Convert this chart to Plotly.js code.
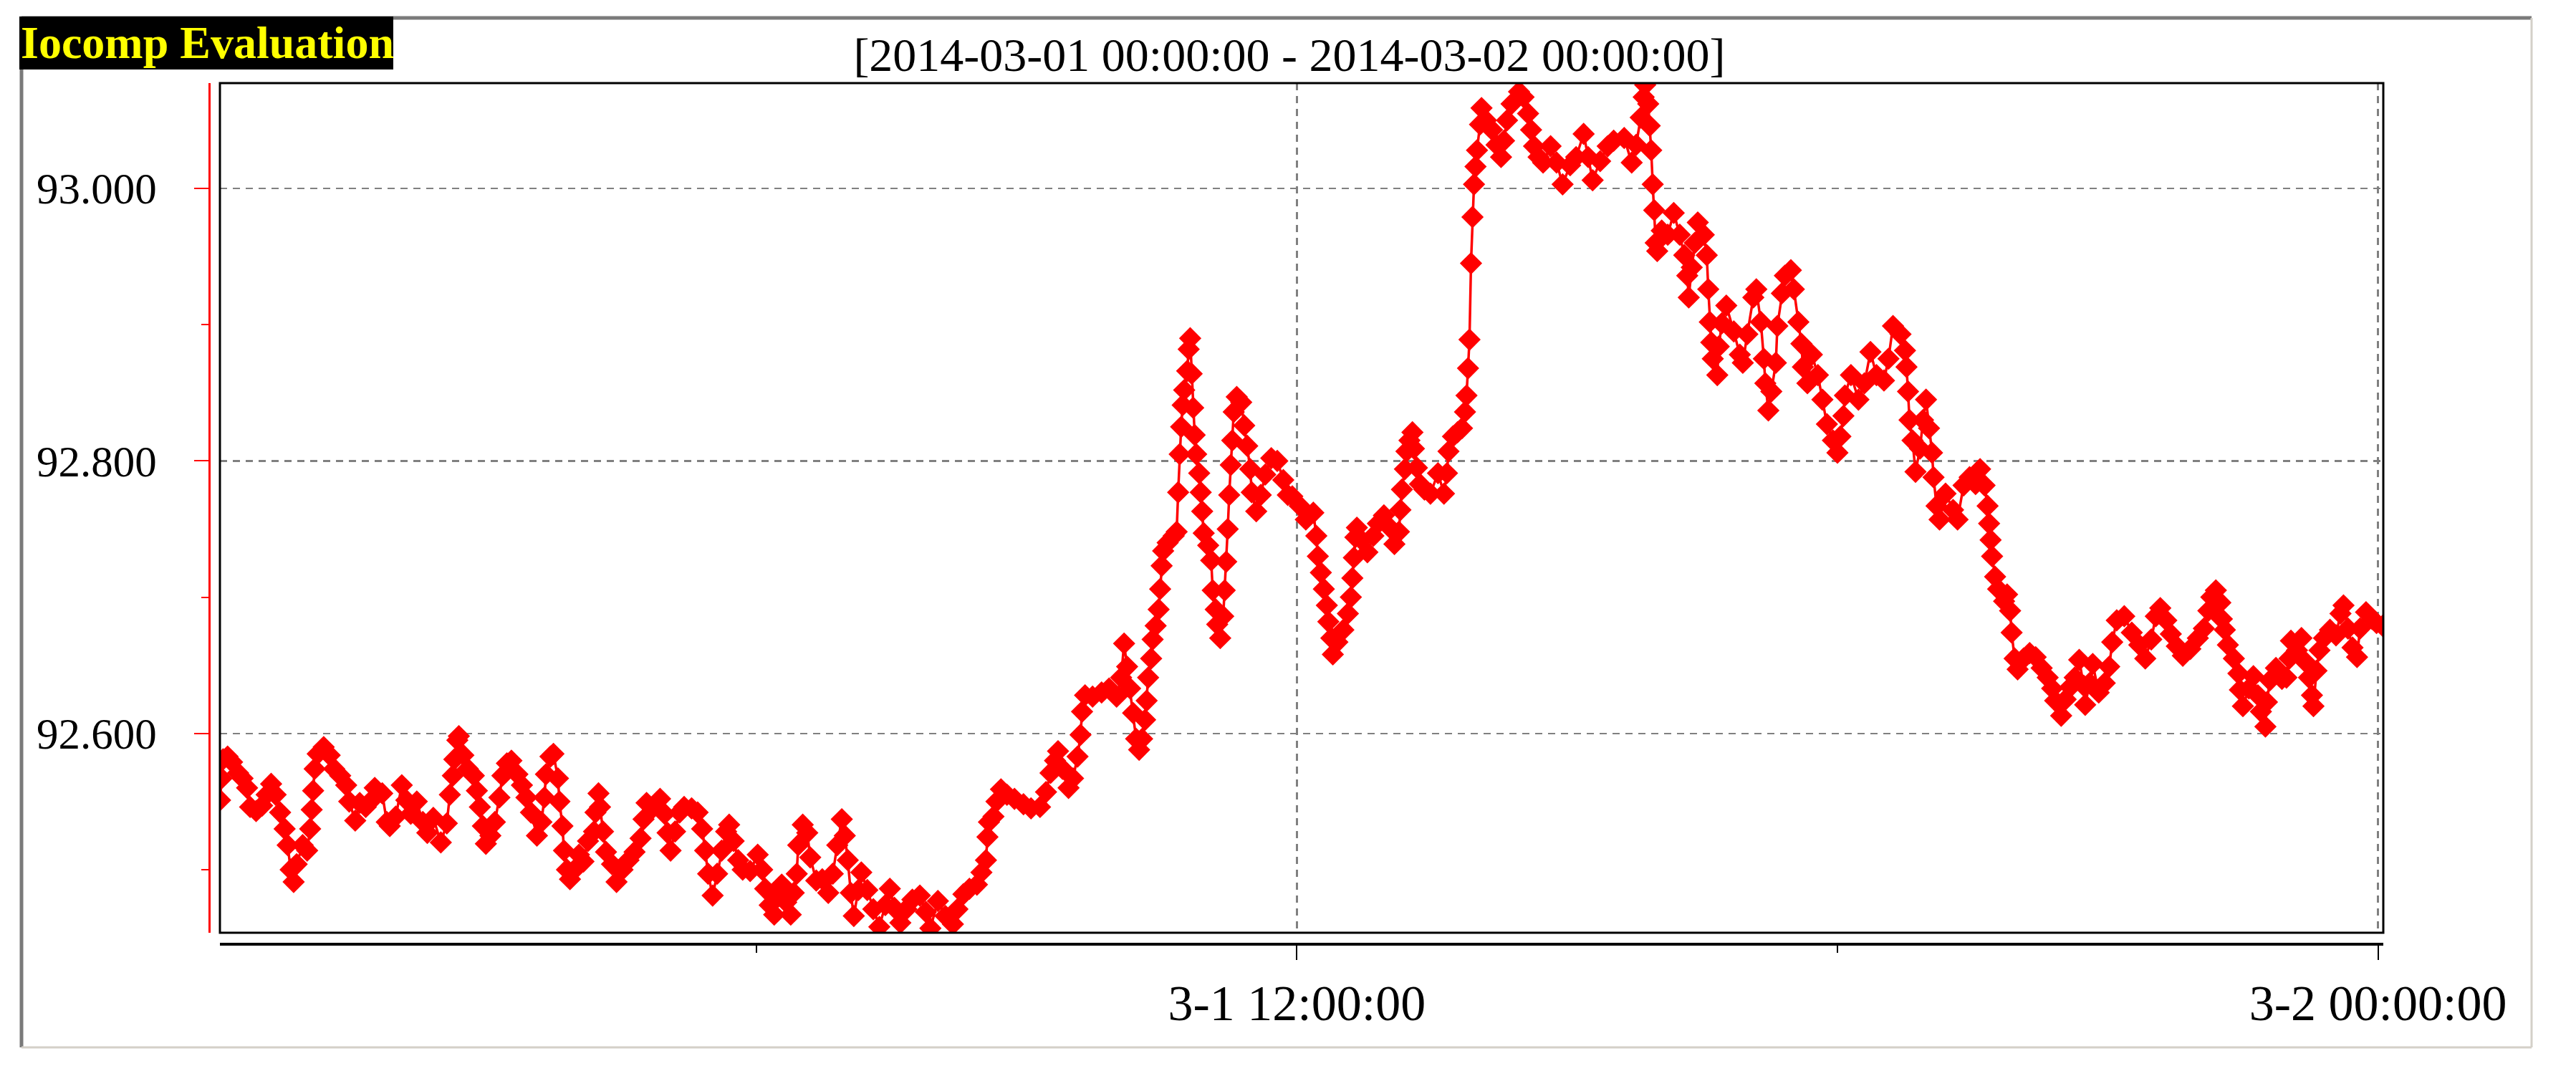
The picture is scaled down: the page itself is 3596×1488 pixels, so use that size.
<!DOCTYPE html>
<html><head><meta charset="utf-8">
<script src="https://cdn.plot.ly/plotly-3.0.1.min.js"></script>
<style>html,body{margin:0;padding:0;background:#fff;overflow:hidden}#chart{width:3596px;height:1488px}</style>
</head><body><div id="chart"></div>
<script>
// minutes after 2014-03-01 00:00:00
const minutes = [3,4,5,8,11,15,18,21,23,27,31,34,37,40,43,46,48,50,52,54,58,61,63,64,65,66,68,72,76,79,83,87,89,93,96,100,103,106,111,114,116,120,124,127,130,134,138,141,145,150,154,156,158,159,161,162,165,168,172,174,176,178,180,183,186,189,191,194,197,201,204,207,210,214,217,219,220,223,225,228,229,231,232,234,236,
239,242,245,248,252,253,255,256,258,260,264,267,271,275,279,283,285,287,291,296,299,301,303,306,309,312,317,321,324,326,328,331,334,337,340,342,345,348,351,356,361,364,366,369,372,375,377,380,383,385,387,388,391,394,396,400,404,408,411,414,417,419,421,423,425,428,430,434,438,442,446,449,452,456,460,464,469,473,476,
481,486,491,494,498,502,507,510,513,514,515,518,520,523,527,532,538,543,549,553,556,559,561,564,568,571,574,576,577,579,584,590,595,600,603,605,607,609,611,613,615,617,619,620,621,623,624,626,628,629,630,631,634,638,640,641,642,643,644,645,647,648,649,650,651,652,653,655,656,657,658,661,663,664,666,667,669,671,672,673,674,675,676,677,678,680,683,685,687,689,690,693,696,699,703,707,711,714,
717,722,726,731,733,734,736,738,740,741,743,744,747,751,754,756,757,758,759,760,763,767,771,774,778,782,785,788,789,790,792,793,795,797,798,800,802,805,809,814,818,820,821,824,827,830,832,833,834,835,836,837,838,839,840,842,843,846,850,853,856,858,860,863,868,871,874,876,878,881,884,889,893,897,902,906,911,914,917,922,927,931,938,943,946,949,951,952,
954,955,956,957,958,959,960,963,967,971,975,978,980,981,983,985,987,991,993,994,995,996,997,1000,1001,1003,1006,1011,1015,1017,1020,1024,1026,1029,1031,1032,1034,1036,1039,1040,1043,1045,1049,1051,1054,1056,1057,1060,1063,1067,1070,1073,1077,1080,1082,1084,1085,1089,1094,1098,1102,1106,1111,1114,1117,1122,1125,1126,1127,1128,1130,1132,1135,1137,1139,1141,1143,1144,1146,1148,1152,1157,1160,1164,1168,1172,1175,1178,1180,1181,1182,1183,1185,1187,1191,
1193,1195,1196,1198,1200,1204,1208,1212,1216,1220,1223,1225,1229,1232,1235,1238,1241,1244,1245,1248,1250,1254,1258,1261,1263,1266,1271,1276,1281,1285,1289,1292,1295,1299,1302,1306,1310,1315,1320,1324,1327,1329,1332,1335,1336,1338,1340,1344,1347,1348,1350,1354,1357,1360,1362,1365,1366,1368,1372,1376,1379,1381,1382,1386,1389,1392,1394,1396,1397,1399,1401,1404,1408,1412,1415,1417,1420,1423,1426,1428,1432,1436,1439,1443];

const values = [92.551,92.567,92.581,92.583,92.579,92.571,92.567,92.560,92.546,92.543,92.547,92.555,92.563,92.555,92.542,92.530,92.518,92.500,92.491,92.504,92.518,92.514,92.530,92.544,92.558,92.574,92.585,92.590,92.584,92.574,92.569,92.562,92.550,92.536,92.549,92.546,92.550,92.560,92.556,92.535,92.532,92.539,92.562,92.551,92.541,92.550,92.535,92.527,92.538,92.520,92.534,92.555,92.569,92.581,92.595,92.598,92.584,92.574,92.569,92.558,92.546,92.532,92.519,92.525,92.535,92.553,92.569,92.578,92.580,92.570,92.562,92.553,92.542,92.525,92.535,92.553,92.570,92.583,92.585,92.567,92.550,92.532,92.514,92.500,92.493,
92.500,92.511,92.506,92.521,92.528,92.542,92.556,92.546,92.528,92.513,92.504,92.491,92.500,92.507,92.513,92.523,92.537,92.549,92.545,92.552,92.541,92.527,92.514,92.528,92.542,92.546,92.545,92.542,92.530,92.514,92.497,92.481,92.497,92.514,92.528,92.533,92.521,92.507,92.500,92.499,92.511,92.500,92.486,92.474,92.467,92.481,92.489,92.476,92.467,92.483,92.497,92.518,92.533,92.527,92.509,92.492,92.493,92.483,92.497,92.518,92.537,92.525,92.507,92.483,92.466,92.485,92.498,92.485,92.471,92.458,92.474,92.486,92.472,92.461,92.471,92.478,92.481,92.469,92.457,
92.477,92.466,92.460,92.471,92.482,92.486,92.489,92.498,92.507,92.524,92.535,92.539,92.550,92.559,92.555,92.552,92.548,92.545,92.546,92.557,92.571,92.580,92.587,92.574,92.560,92.567,92.583,92.599,92.616,92.628,92.627,92.630,92.633,92.627,92.641,92.666,92.649,92.633,92.615,92.596,92.588,92.596,92.610,92.624,92.641,92.655,92.669,92.679,92.691,92.706,92.723,92.734,92.740,92.745,92.748,92.777,92.805,92.825,92.841,92.852,92.866,92.882,92.890,92.864,92.839,92.819,92.805,92.791,92.777,92.763,92.747,92.738,92.727,92.705,92.691,92.680,92.670,92.686,92.705,92.726,92.750,92.775,92.797,92.815,92.836,92.847,92.843,92.826,92.811,92.794,92.777,92.763,92.775,92.790,92.802,92.800,92.786,92.775,
92.774,92.767,92.757,92.762,92.745,92.730,92.718,92.706,92.694,92.682,92.670,92.658,92.667,92.676,92.688,92.700,92.714,92.729,92.744,92.751,92.742,92.733,92.745,92.754,92.760,92.751,92.739,92.748,92.764,92.779,92.794,92.807,92.815,92.821,92.809,92.795,92.783,92.779,92.776,92.791,92.776,92.791,92.807,92.818,92.821,92.824,92.836,92.848,92.868,92.889,92.945,92.979,93.003,93.016,93.028,93.047,93.059,93.050,93.043,93.032,93.023,93.035,93.050,93.062,93.071,93.067,93.055,93.043,93.031,93.023,93.019,93.031,93.019,93.003,93.017,93.023,93.040,93.023,93.006,93.020,93.031,93.035,93.037,93.019,93.032,93.052,93.067,93.076,
93.062,93.046,93.028,93.003,92.984,92.960,92.954,92.969,92.966,92.982,92.966,92.951,92.936,92.920,92.942,92.960,92.975,92.966,92.951,92.926,92.902,92.887,92.875,92.863,92.884,92.901,92.914,92.895,92.878,92.872,92.893,92.920,92.926,92.902,92.875,92.857,92.837,92.851,92.872,92.899,92.923,92.936,92.940,92.926,92.902,92.886,92.869,92.857,92.878,92.863,92.845,92.827,92.815,92.806,92.818,92.833,92.848,92.863,92.845,92.857,92.880,92.863,92.859,92.875,92.899,92.893,92.881,92.869,92.851,92.830,92.815,92.792,92.809,92.830,92.845,92.824,92.806,92.788,92.767,92.757,92.776,92.764,92.757,92.782,92.788,92.783,92.794,92.782,92.767,92.754,92.742,92.730,92.715,92.706,92.697,
92.702,92.690,92.674,92.655,92.647,92.655,92.659,92.656,92.648,92.641,92.633,92.624,92.613,92.625,92.634,92.641,92.654,92.635,92.621,92.637,92.651,92.630,92.637,92.649,92.667,92.683,92.686,92.674,92.665,92.655,92.669,92.686,92.692,92.683,92.673,92.664,92.657,92.662,92.670,92.677,92.690,92.700,92.705,92.696,92.684,92.676,92.665,92.655,92.644,92.632,92.620,92.633,92.642,92.628,92.616,92.605,92.623,92.639,92.648,92.640,92.641,92.655,92.668,92.661,92.670,92.652,92.641,92.628,92.620,92.646,92.661,92.670,92.676,92.672,92.688,92.694,92.677,92.663,92.656,92.677,92.689,92.684,92.681,92.679];

const titleText = '[2014-03-01 00:00:00 - 2014-03-02 00:00:00]';
const watermarkText = 'Iocomp Evaluation';
const xTickFormat = '%-m-%-d %H:%M:%S';
const yTickFormat = '.3f';

const W = 3596, H = 1488;
const fx = px => px / W;
const fy = py => 1 - py / H;
const BASE = Date.UTC(2014, 2, 1, 0, 0, 0);
function stamp(m) { return new Date(BASE + m * 60000).toISOString().slice(0, 19).replace('T', ' '); }

const xs = minutes.map(stamp);
const FONT = 'Liberation Serif, Times New Roman, serif';

const trace = {
  x: xs, y: values, type: 'scatter', mode: 'lines+markers',
  line: {color: '#ff0000', width: 3.5},
  marker: {symbol: 'diamond', size: 24, color: '#ff0000', line: {width: 0}},
  hoverinfo: 'skip', showlegend: false
};

const layout = {
  width: W, height: H,
  margin: {l: 0, r: 0, t: 0, b: 0, pad: 0},
  paper_bgcolor: '#ffffff', plot_bgcolor: '#ffffff',
  font: {family: FONT, color: '#000000', size: 64},
  showlegend: false,
  title: {text: titleText, font: {family: FONT, size: 66, color: '#000000'},
          x: fx(1800), xanchor: 'center', xref: 'container', y: fy(76), yanchor: 'middle', yref: 'container'},
  xaxis: {
    type: 'date', domain: [fx(307), fx(3327)], anchor: 'free', position: fy(1318),
    range: [stamp(2.9), stamp(1443.5)],
    tickmode: 'linear', tick0: '2014-03-01 00:00:00', dtick: 43200000,
    tickformat: xTickFormat,
    ticks: 'outside', ticklen: 20, tickwidth: 2, tickcolor: '#000000',
    minor: {dtick: 21600000, tick0: '2014-03-01 00:00:00', ticks: 'outside', ticklen: 10, tickwidth: 2, tickcolor: '#000000', showgrid: false},
    showline: true, linecolor: '#000000', linewidth: 4,
    showgrid: true, gridcolor: '#808080', gridwidth: 2.5, griddash: '10px,8px',
    zeroline: false,
    tickfont: {family: FONT, size: 70, color: '#000000'}
  },
  yaxis: {
    domain: [fy(1302), fy(116)], anchor: 'free', position: fx(292),
    range: [92.4537, 93.0773],
    tickmode: 'linear', tick0: 92.6, dtick: 0.2, tickformat: yTickFormat,
    ticks: 'outside', ticklen: 20, tickwidth: 2, tickcolor: '#ff0000',
    minor: {dtick: 0.1, tick0: 92.5, ticks: 'outside', ticklen: 10, tickwidth: 2, tickcolor: '#ff0000', showgrid: false},
    showline: true, linecolor: '#ff0000', linewidth: 2.5,
    showgrid: true, gridcolor: '#808080', gridwidth: 2.5, griddash: '10px,8px',
    zeroline: false, ticklabelstandoff: 40,
    tickfont: {family: FONT, size: 61, color: '#000000'}
  },
  shapes: [
    {type: 'line', xref: 'paper', yref: 'paper', x0: fx(30), x1: fx(3534), y0: fy(25), y1: fy(25), line: {color: '#7a7a7a', width: 5}},
    {type: 'line', xref: 'paper', yref: 'paper', x0: fx(30), x1: fx(30), y0: fy(25), y1: fy(1462), line: {color: '#7a7a7a', width: 5}},
    {type: 'line', xref: 'paper', yref: 'paper', x0: fx(3534), x1: fx(3534), y0: fy(25), y1: fy(1462), line: {color: '#d4d0c8', width: 3}},
    {type: 'line', xref: 'paper', yref: 'paper', x0: fx(30), x1: fx(3534), y0: fy(1462), y1: fy(1462), line: {color: '#d4d0c8', width: 3}},
    {type: 'rect', xref: 'paper', yref: 'paper', x0: fx(27), x1: fx(549), y0: fy(97), y1: fy(23), fillcolor: '#000000', line: {width: 0}},
    {type: 'rect', xref: 'paper', yref: 'paper', x0: fx(307), x1: fx(3327), y0: fy(1302), y1: fy(116), line: {color: '#000000', width: 3}, layer: 'above'}
  ],
  annotations: [
    {text: watermarkText, xref: 'paper', yref: 'paper', x: fx(27), y: fy(60), xanchor: 'left', yanchor: 'middle',
     showarrow: false, font: {family: FONT, size: 64, color: '#ffff00', weight: 'bold'}}
  ]
};

Plotly.newPlot('chart', [trace], layout, {displayModeBar: false, staticPlot: true});
</script>
</body></html>
